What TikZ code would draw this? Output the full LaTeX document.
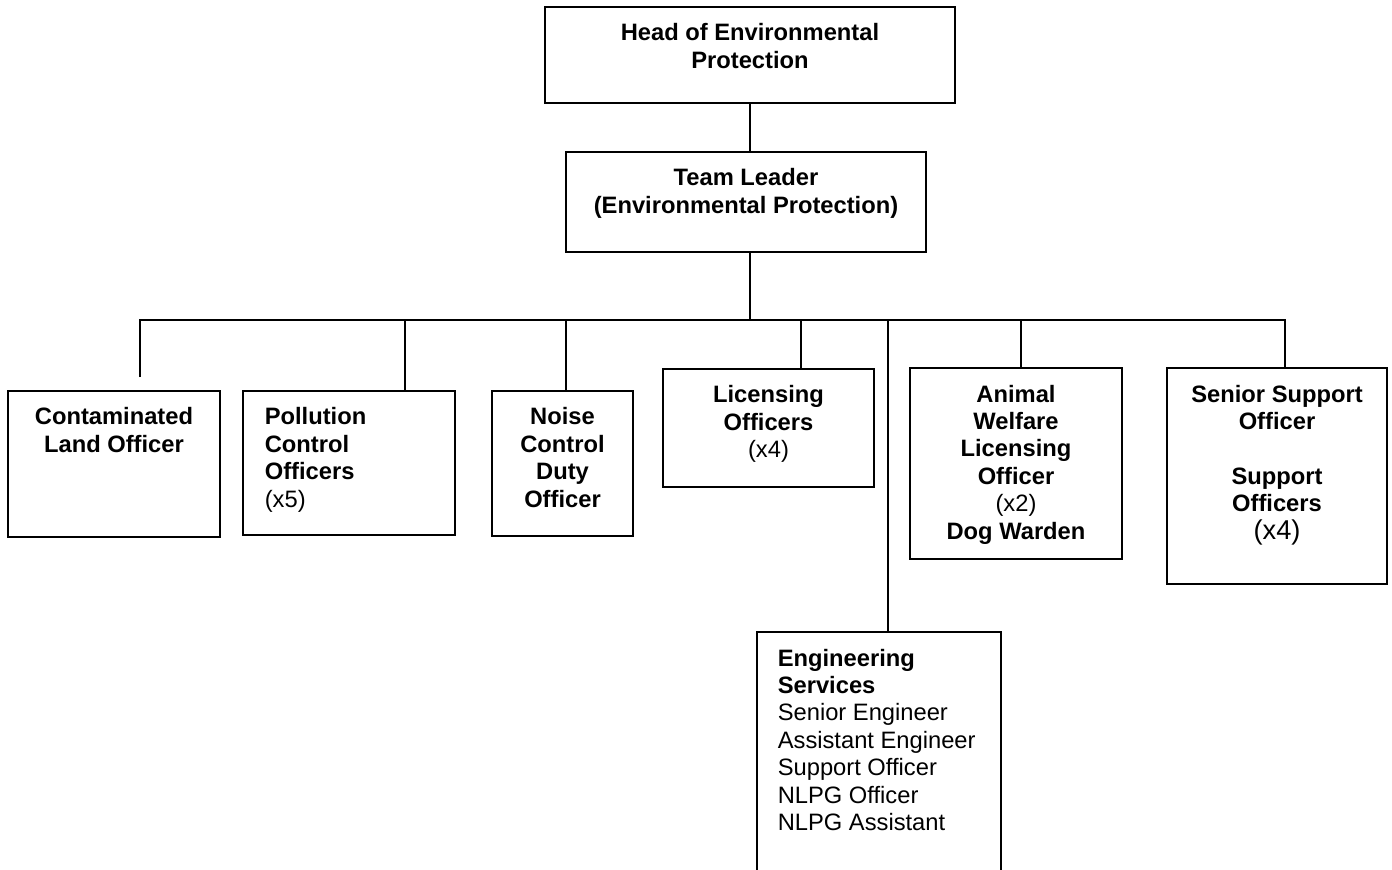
\documentclass[tikz,border=0pt]{standalone}
\usepackage{fontspec}
\setmainfont{Liberation Sans}
\usetikzlibrary{positioning}

\begin{document}
\begin{tikzpicture}[x=0.02cm, y=-0.02cm, line width=0.9pt,
    post/.style ={rectangle, draw, inner sep=0pt, outer sep=0pt},
    title/.style ={inner sep=0pt, align=center, font=\fontsize{13.5}{15.6}\selectfont\bfseries},
    titleleft/.style ={title, align=left}]
   \useasboundingbox (0,0) rectangle (1392,869);

   \node[post, minimum width=8.2cm, minimum height=1.92cm] (head) at (750,55) {};
   \node[post, minimum width=7.2cm, minimum height=2cm] (team) at (746,202) {};
   \node[post, minimum width=4.24cm, minimum height=2.92cm] (cont) at (114,464) {};
   \node[post, minimum width=4.24cm, minimum height=2.88cm] (poll) at (349,463) {};
   \node[post, minimum width=2.82cm, minimum height=2.9cm] (noise) at (562.5,463.5) {};
   \node[post, minimum width=4.22cm, minimum height=2.36cm] (lic) at (768.5,428) {};
   \node[post, minimum width=4.24cm, minimum height=3.82cm] (anim) at (1016,463.5) {};
   \node[post, minimum width=4.4cm, minimum height=4.32cm] (supp) at (1277,476) {};
   \node[post, minimum width=4.88cm, minimum height=4.96cm] (eng) at (879,756) {};

   \node[title, below=0.32cm of head.north] (headtxt) {Head of Environmental\\Protection};
   \node[title, below=0.32cm of team.north] (teamtxt) {Team Leader\\(Environmental Protection)};
   \node[title, below=0.32cm of cont.north] (conttxt) {Contaminated\\Land Officer};
   \node[titleleft, below right=0.32cm and 0.42cm of poll.north west] (polltxt) {Pollution\\Control\\Officers\\{\mdseries (x5)}};
   \node[title, below=0.32cm of noise.north] (noisetxt) {Noise\\Control\\Duty\\Officer};
   \node[title, below=0.32cm of lic.north] (lictxt) {Licensing\\Officers\\{\mdseries (x4)}};
   \node[title, below=0.32cm of anim.north] (animtxt) {Animal\\Welfare\\Licensing\\Officer\\{\mdseries (x2)}\\Dog Warden};
   \node[title, below=0.32cm of supp.north] (supptxt) {Senior Support\\Officer\\[15.6pt]Support\\Officers\\{\fontsize{15.5}{15.6}\selectfont\mdseries (x4)}};
   \node[titleleft, below right=0.32cm and 0.4cm of eng.north west] (engtxt) {Engineering\\Services\\{\mdseries Senior Engineer}\\{\mdseries Assistant Engineer}\\{\mdseries Support Officer}\\{\mdseries NLPG Officer}\\{\mdseries NLPG Assistant}};

   \coordinate (c1) at (140,377);
   \coordinate (c2) at (405,320);
   \coordinate (c3) at (566,320);
   \coordinate (c4) at (750,320);
   \coordinate (c5) at (801,320);
   \coordinate (c6) at (888,320);
   \coordinate (c7) at (1021,320);
   \coordinate (c8) at (1285,320);

   \draw (head.south) to (head.south |- team.north);
   \draw (c4 |- team.south) to (c4);
   \draw (c1) |- (c8) to (c8 |- supp.north);
   \draw (c2) to (c2 |- poll.north);
   \draw (c3) to (c3 |- noise.north);
   \draw (c5) to (c5 |- lic.north);
   \draw (c6) to (c6 |- eng.north);
   \draw (c7) to (c7 |- anim.north);
 \end{tikzpicture}
\end{document}
